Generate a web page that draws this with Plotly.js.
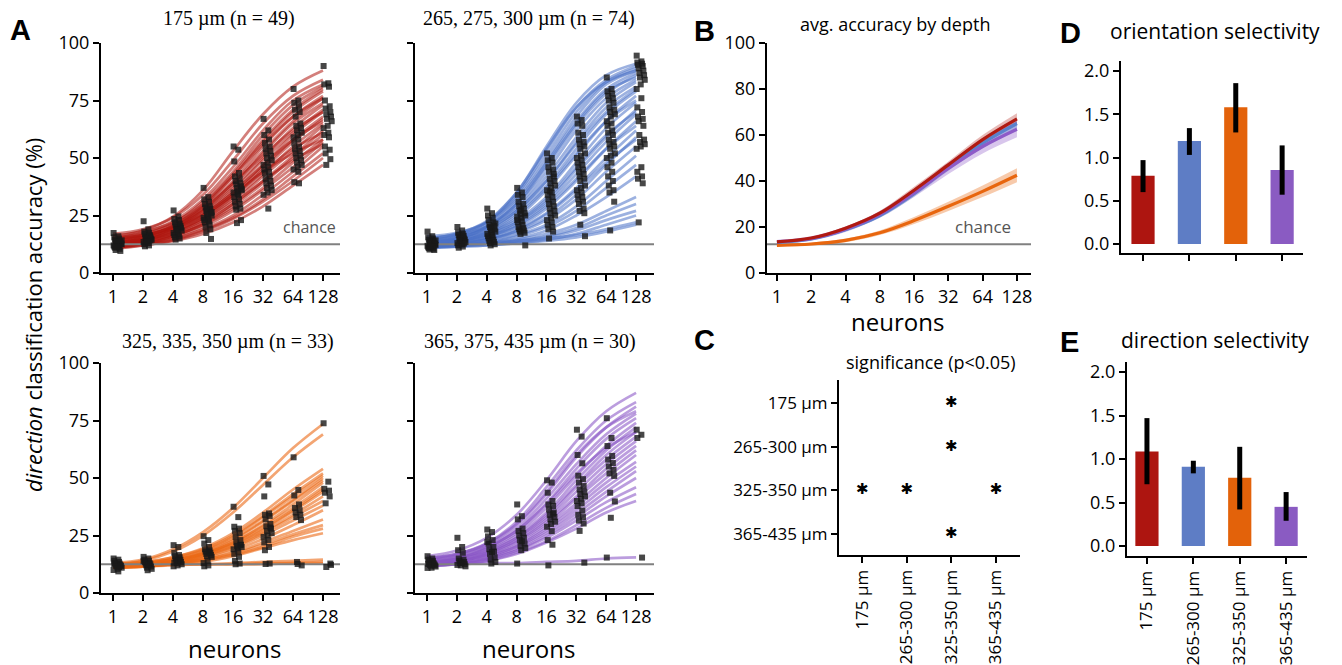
<!DOCTYPE html>
<html><head><meta charset="utf-8">
<script src="https://cdn.plot.ly/plotly-3.0.1.min.js"></script>
<style>html,body{margin:0;padding:0;background:#fff}#chart{width:1342px;height:665px}</style>
</head><body><div id="chart"></div>
<script>
const W=1342,H=665;
const neurons=[1,2,4,8,16,32,64,128];
const neuronLabels=['1','2','4','8','16','32','64','128'];
const chance=12.5;

// ---- Panel A: per-session fitted curves (values at 1..128 neurons) ----
const redCurves=[
[16,18.5,24.5,36,53,69,81,88],[17,19,24,34,49,65,77,84],[15,17.5,22.5,32,46,62,75,82],
[14,16.5,21.5,31,44,60,73,81],[16,18,22,30,43,58,71,80],[13,15.5,20.5,29,42,57,70,79],
[15,17,21,28.5,40,55,68,77],[14,16,20,28,39,53,66,76],[12,14.5,19.5,27,38,52,65,74],
[15,16.5,20,27,37,50,63,73],[13,15,19,26,36,49,61,71],[12,14,18.5,25.5,35,47,60,70],
[14,15.5,19,25,34,46,58,68],[12,14,18,24,33,45,57,67],[13,14.5,17.5,23,32,43,55,65],
[11,13,17,23,31,42,53,64],[12,13.5,16.5,22,30,40,51,62],[11,12.5,16,21,29,39,50,60],
[13,14,16.5,21,28,37,48,58],[11,12.5,15.5,20,27,36,46,57],[12,13,15,19,25,34,44,55],
[10.5,12,14.5,18.5,24,32,42,52],[11,12,14,18,23.5,31,40,50],[12,12.5,14,17,22,29,38,47],
[14,16,20.5,29.5,42,56,68,76],[13,15,19.5,27.5,39,51,62,70],[15,16.5,19.5,25.5,35,47,58,66],
[12,14,17.5,24,33.5,44,54,61],[11.5,13,16,21.5,30,40,49,56],[13,14.5,18,24.5,34,44,52,58]
];
const blueCurves=[
[14,16.5,22,35,55,74,86,91],[15,17,22,34,53,72,84,90],[13,15.5,21,33,51,70,83,89],
[16,17.5,22,32,49,68,82,88],[12,14.5,20,31,48,66,80,87],[14,16,20.5,30,46,64,78,86],
[13,15,19.5,29,44,62,76,84],[15,16.5,20,28,42,59,74,83],[12,14,18.5,27,40,57,72,81],
[13,14.5,18,26,38,54,69,79],[12,13.5,17,24,36,51,66,77],[14,15,17.5,23,33,48,63,74],
[12,13.5,16.5,22,31,45,59,71],[11,12.5,15.5,21,30,43,57,69],[13,14,16,20,28,40,54,66],
[12,13,15,19,26,37,50,62],[11,12.5,14.5,18,24,34,47,59],[12,13,14.5,17.5,23,32,44,55],
[11,12,13.5,16.5,21,29,40,51],[12,12.5,13.5,16,20,27,37,47],[11,12,13,15,18.5,25,33,42],
[12,12.5,13,14.5,17,21,27,33],[11,11.5,12.5,14,16,19.5,25,30],[12,12.5,13,14,15.5,18.5,23,27],
[11,11.5,12,13,14.5,17,21,25],[12,12,12.5,13.5,15,16.5,19,22],[11,11.5,12,13,14,15.5,18,21],
[15,17,22.5,35,54,72,83,88],[13,15,20,30,47,65,79,85],[14,15.5,19,27,40,56,70,80],
[12,13.5,17.5,25,37,52,66,75],[13,14,16.5,22,32,46,60,70],[12,13,15.5,20.5,29,41,54,64],
[11.5,12.5,14.5,18.5,25.5,36,48,58]
];
const orangeCurves=[
[13,14.5,19,26.5,37,50,63,73.5],[12.5,14,18,25,35,47,59,69],[12,13,15.5,19.5,26,35,45,54],
[12.5,13.5,15.5,19,25,33.5,43,52],[11.5,12.5,15,18.5,24.5,33,42,51],[12,13,14.5,18,23.5,31.5,40.5,50],
[11,12,14,17.5,23,31,40,49],[12,12.5,14,17,22,29.5,38.5,48],[11.5,12.5,14,17,22,29,37,46],
[12,13,14.5,17,21.5,28,36,45],[11,12,13.5,16.5,21,27.5,35.5,44],[11.5,12.5,13.5,16,20.5,26.5,34,42],
[12,12.5,13.5,16,20,26,33,40],[11,12,13,15.5,19.5,25,31.5,38],[11.5,12,13,15,18.5,23.5,29.5,36],
[11,11.5,12.5,14.5,17.5,22,27,32],[11.5,12,13,14.5,17,21,25.5,29.5],[11,11.5,12.5,14,16.5,20,24.5,28],
[11,11.5,12.5,13.5,16,19.5,23,26],[12,12,12.5,12.5,13,13.5,14,14.5],[11,11.5,12,12.5,12.5,13,13,13.5],
[12,12,12.5,12.5,12.5,12.5,13,13]
];
const purpleCurves=[
[16,18.5,24,34,49,66,79,87],[14,16.5,21.5,31,46,62,75,83],[15,17,21,29.5,43,59,72,81],
[13,15.5,20,28,41,56,69,78],[15,16.5,20,27,39,54,67,76],[13,15,19,26,37,51,64,74],
[14,15.5,18.5,25,35,49,62,72],[12,14,17.5,24,34,47,60,70],[13,14.5,18,24,33,46,58,68],
[12,13.5,17,23,32,44,56,66],[14,15,17.5,22.5,31,42,54,64],[12,13.5,16.5,22,30,41,52,62],
[13,14,16.5,21,29,39,50,60],[12,13,15.5,20.5,28,37.5,48,57],[13,14,16,20,27,36,46,55],
[12,13,15,19.5,26,34.5,44,53],[11.5,12.5,14.5,18.5,25,33,42,50],[12,13,15,18.5,24,31.5,39.5,46],
[11.5,12.5,14,17.5,22.5,29.5,37,43],[12,12.5,14,17,22,28,35,40],[12.5,12.5,13,13,13.5,14,15,15.5],
[15,17,21.5,30,44,60,72,79],[13,15,19.5,27,38.5,52,63,70]
];

// ---- Panel A: session accuracies (one list per neuron count) ----
const redPoints=[
[17.4,16,15.5,15,14.5,14,13.8,13.5,13.2,13,12.8,12.5,12.2,12,11.8,11.5,11.2,11,10.5,10,9.6,13.6,12.6,11.4,14.2],
[22.5,19,18,17.5,17,16.5,16,15.8,15.5,15,14.8,14.5,14,13.5,13,12.5,12,11.6,16.2,15.2,14.2,13.8],
[27.2,24.6,23.5,23,22,21.5,21,20.5,20,19.5,19,18.5,18,17.4,17,16.5,16,15.5,15,14.5,20.2,18.8],
[37,33,32,31,30,29,28.5,28,27,26,25.5,25,24.5,24,23.5,23,22.5,22,21,20,19,17.4,14.8,27.5,26.5],
[55,53.6,48.5,43.5,42,41,40,39,38.5,37.7,37,36,35.5,35,34,33,32,31,30,29,28,27.5,23,21.7,36.5,34.5],
[67,62,60,58,56.5,55,54,53,52,51,50,49,48,47,46,45,44,43.5,42,41,40,39,38,37,36,35,34,28],
[80,75,74,72.5,71,70,68,65,64,63,62,61,60,59,58,56.5,55,54,53,52,51,50,49,48,47,46,45,44,39.5,39],
[90,82.5,82,81,75,72.5,71.5,70,69,68,67,66,64,63,61,60,59,55,53.6,52,49.5,47]
];
const bluePoints=[
[18,16,15.5,15,14.5,14,13.5,13.2,13,12.8,12.5,12.2,12,11.8,11.5,11.2,11,10.8,10.5,10.2,10,13.6,12.6,11.6,14.2],
[20,18.5,17.5,17,16.5,16,15.5,15,14.8,14.5,14,13.5,13.2,13,12.5,12,11.5,11,16.2,14.2,12.8],
[28,26,25,24,23,22,21,20.5,20,19,18.5,18,17.5,17,16.5,16,15.5,15,14.5,14,13.5,13,12.5,12,21.5,19.5],
[37,35,34,33,31,30,29,28,27,26,25.5,25,24,23,22.5,22,21,20,19.5,19,18.5,18,17.5,17,12,27.5,24.5],
[52,50,49,48,46,45,44,43,41,40,39,38,37,36,35,34,33,32,31,30,29,28,27,26,25,24,23,22,21,20,19,18,15,42,35.5],
[68,66.5,65,64,61,60,58,57,56,55,54,52,51,50,49,48,47,46,45,44,43,42,41,40,38,37,36,35,34,33,32,31,30,28,27,26,21,16],
[85,80,79,78,77,76,75,74,72,71,70,69,68,66,65,64,62,61,60,58,57,56,55,54,52,51,50,48,46,44,42,40,38,36,35,31,18.5],
[94.5,92,91.5,91,90.5,90,89,88,87,86,85,84,82,80,76,72,70,68,67,66,64,60,58,57,56,55,54,46,44,42,41,39,22]
];
const orangePoints=[
[15,14.5,14,13.5,13,12.8,12.5,12.2,12,11.8,11.5,11,10.5,10,9.4,12.6,11.3],
[15.7,15,14.5,14,13.5,13,12.8,12.5,12,11.5,11,10.5,9.9,13.8,12.3],
[20.8,20,17.5,16.5,16,15.5,15,14.5,14,13.5,13,12.5,12,11.6,14.2,13.2],
[24.7,23,21.5,20,19,18.5,18,17.5,17,16.5,16,15.7,14,13,12,11.6,17.8],
[37.5,33,28.8,28,27,26,24.4,23,22,21,20.5,20,19.5,19,18,17,15.7,14,12.8,12.5,20.8],
[50.9,47.2,42,34.6,34,33.5,32,30,29,28,27,26,25,24.4,23,22,20,18.6,12.8,12.6,28.5],
[59,44.8,42.4,38.5,37,36,35,34,33,31.7,13.5,12,12.6],
[73.8,48.4,45.3,44.5,43.6,42,39,12.8,11.3,12.2]
];
const purplePoints=[
[16,15,14.5,14,13.5,13,12.8,12.5,12.2,12,11.8,11.5,11,10.9,13.6,12.6],
[24,20,18.6,17.5,15,14.5,14,13.5,13,12.5,12,11.6,13.2,12.2],
[27.6,26.5,24.6,23,21.5,20,19,18,17,15.5,14.5,13.5,12.8,22.2,17.8],
[38.5,33.4,32,28,27,26,25,24,23,21.5,20.5,19.5,18.6,12.8,22.5],
[49,48,43.6,40,38.5,37.8,36.3,35,34,33,32,31,30,28.8,26.9,23,21,12,34.5],
[71,68,60,56.4,51,49.5,48,46.5,45,44,43,42,41,40,39,37.8,35.8,34,33,31.5,30.2,27,13.2],
[76,67.4,63.9,59.6,58,56.5,55,53.5,52,50.9,43.6,39.8,32.7,15.4],
[71,68.8,67.4,15.4]
];

// ---- Panel B: average accuracy by depth (mean and band) ----
const bRed=[13.5,15.2,19.5,26,36,47,58,67];
const bRedLo=[13,14.7,18.8,25,34.5,45.5,56,64.5];
const bRedHi=[14,15.7,20.2,27,37.5,48.5,60,69.5];
const bBlue=[13.3,14.8,18.8,25,34.5,46,56.5,65];
const bBlueLo=[12.8,14.3,18.2,24,33.3,44.5,54.5,62.5];
const bBlueHi=[13.8,15.3,19.4,26,35.7,47.5,58.5,67.5];
const bPurple=[13.6,15,19,25.5,34.8,45.5,55,62.5];
const bPurpleLo=[12.8,14,17.8,24,33,43,52,59];
const bPurpleHi=[14.4,16,20.2,27,36.6,48,58,66];
const bOrange=[12,12.6,14.2,17.5,22.8,29,35.5,42.5];
const bOrangeLo=[11.5,12,13.4,16.5,21.3,27,33,39.5];
const bOrangeHi=[12.5,13.2,15,18.5,24.3,31,38,45.5];

// ---- Panel C: significant pairs ----
const depthLabels=['175 µm','265-300 µm','325-350 µm','365-435 µm'];
const sigRow=[0,1,2,2,2,3];
const sigCol=[2,2,0,1,3,2];

// ---- Panels D, E ----
const osi=[0.79,1.19,1.58,0.855];
const osiLo=[0.60,1.03,1.29,0.57];
const osiHi=[0.97,1.34,1.86,1.14];
const dsi=[1.085,0.91,0.785,0.45];
const dsiLo=[0.71,0.835,0.42,0.29];
const dsiHi=[1.47,0.98,1.14,0.62];

const depthColors=['#AD1510','#5E7DC5','#E3620A','#8A5BC2'];

// ================= build =================
const traces=[];
function curveTraces(curves,color,xa,ya){
  curves.forEach(c=>traces.push({type:'scatter',mode:'lines',x:neurons,y:c,xaxis:xa,yaxis:ya,
    line:{color:color,width:2.7,shape:'spline',smoothing:1},hoverinfo:'skip'}));
}
function chanceTrace(xa,ya){
  traces.push({type:'scatter',mode:'lines',x:[0.3,400],y:[chance,chance],xaxis:xa,yaxis:ya,
    line:{color:'#808080',width:2.2},hoverinfo:'skip'});
}
function pointTrace(points,xa,ya){
  const xs=[],ys=[];
  points.forEach((col,i)=>col.forEach((v,j)=>{
    xs.push(neurons[i]*Math.pow(2,0.02+0.27*((j*7)%13)/12)); ys.push(v);
  }));
  traces.push({type:'scatter',mode:'markers',x:xs,y:ys,xaxis:xa,yaxis:ya,
    marker:{symbol:'square',size:6,color:'rgba(25,25,25,0.8)'},hoverinfo:'skip'});
}
const panels=[
  [redCurves,redPoints,'rgba(175,22,15,0.55)','x','y'],
  [blueCurves,bluePoints,'rgba(75,113,198,0.55)','x2','y2'],
  [orangeCurves,orangePoints,'rgba(235,105,22,0.6)','x3','y3'],
  [purpleCurves,purplePoints,'rgba(138,86,198,0.58)','x4','y4']
];
panels.forEach(p=>{curveTraces(p[0],p[2],p[3],p[4]);chanceTrace(p[3],p[4]);pointTrace(p[1],p[3],p[4]);});

// Panel B
chanceTrace('x5','y5');
function band(lo,hi,fill){
  traces.push({type:'scatter',mode:'lines',x:neurons,y:hi,xaxis:'x5',yaxis:'y5',line:{width:0,shape:'spline'},hoverinfo:'skip'});
  traces.push({type:'scatter',mode:'lines',x:neurons,y:lo,xaxis:'x5',yaxis:'y5',line:{width:0,shape:'spline'},fill:'tonexty',fillcolor:fill,hoverinfo:'skip'});
}
band(bOrangeLo,bOrangeHi,'rgba(232,102,14,0.35)');
band(bPurpleLo,bPurpleHi,'rgba(142,91,200,0.35)');
band(bBlueLo,bBlueHi,'rgba(90,130,204,0.35)');
band(bRedLo,bRedHi,'rgba(176,26,18,0.3)');
[[bOrange,'#E8660E'],[bBlue,'#5A82CC'],[bPurple,'#8E5BC8'],[bRed,'#B01A12']].forEach(a=>{
  traces.push({type:'scatter',mode:'lines',x:neurons,y:a[0],xaxis:'x5',yaxis:'y5',line:{color:a[1],width:3.2,shape:'spline'},hoverinfo:'skip'});
});

// Panel C
traces.push({type:'scatter',mode:'text',x:sigCol,y:sigRow,text:sigRow.map(()=>'✱'),xaxis:'x6',yaxis:'y6',
  textfont:{family:'DejaVu Sans',size:15,color:'black'},textposition:'middle center',hoverinfo:'skip'});

// Panels D, E
function bars(v,lo,hi,xa,ya){
  traces.push({type:'bar',x:[0,1,2,3],y:v,width:0.5,xaxis:xa,yaxis:ya,
    marker:{color:depthColors,line:{width:0}},
    error_y:{type:'data',symmetric:false,array:v.map((d,i)=>hi[i]-d),arrayminus:v.map((d,i)=>d-lo[i]),color:'black',thickness:5,width:0},
    hoverinfo:'skip'});
}
bars(osi,osiLo,osiHi,'x7','y7');
bars(dsi,dsiLo,dsiHi,'x8','y8');

// ================= layout =================
const dx=(a,b)=>[a/W,b/W];
const dy=(t,b)=>[1-b/H,1-t/H];
const L2=Math.log10(2);
const ax={showline:true,linecolor:'black',linewidth:2,ticks:'outside',ticklen:6,tickwidth:2,tickcolor:'black',
  showgrid:false,zeroline:false,fixedrange:true,tickfont:{family:'Open Sans',size:18,color:'black'}};
function xA(dom,range,anchor){return Object.assign({},ax,{type:'log',domain:dom,range:range,tickvals:neurons,ticktext:neuronLabels,anchor:anchor});}
function yA(dom,anchor,show){return Object.assign({},ax,{domain:dom,range:[0,100],tickvals:[0,25,50,75,100],showticklabels:show,anchor:anchor});}
const layout={
  width:W,height:H,margin:{l:0,r:0,t:0,b:0},paper_bgcolor:'white',plot_bgcolor:'rgba(0,0,0,0)',showlegend:false,
  xaxis:xA(dx(101,340),[-0.4*L2,7.567*L2],'y'),
  yaxis:yA(dy(43,273),'x',true),
  xaxis2:xA(dx(415,654),[-0.4*L2,7.6*L2],'y2'),
  yaxis2:yA(dy(43,273),'x2',false),
  xaxis3:xA(dx(101,340),[-0.4*L2,7.567*L2],'y3'),
  yaxis3:yA(dy(363,593),'x3',true),
  xaxis4:xA(dx(415,654),[-0.4*L2,7.6*L2],'y4'),
  yaxis4:yA(dy(363,593),'x4',false),
  xaxis5:xA(dx(767,1031),[-0.29*L2,7.41*L2],'y5'),
  yaxis5:Object.assign({},ax,{domain:dy(43,273),range:[0,100],tickvals:[0,20,40,60,80,100],anchor:'x5'}),
  xaxis6:Object.assign({},ax,{domain:dx(839,1020),range:[-0.52,3.54],tickvals:[0,1,2,3],ticktext:depthLabels,tickangle:-90,anchor:'y6',tickfont:{family:'Open Sans',size:17,color:'black'}}),
  yaxis6:Object.assign({},ax,{domain:dy(380,555),range:[3.48,-0.53],tickvals:[0,1,2,3],ticktext:depthLabels,anchor:'x6',tickfont:{family:'Open Sans',size:17,color:'black'}}),
  xaxis7:Object.assign({},ax,{domain:dx(1121,1303),range:[-0.475,3.45],tickvals:[0,1,2,3],showticklabels:false,anchor:'y7'}),
  yaxis7:Object.assign({},ax,{domain:dy(61,253),range:[-0.104,2.116],tickvals:[0,0.5,1,1.5,2],tickformat:'.1f',anchor:'x7'}),
  xaxis8:Object.assign({},ax,{domain:dx(1127,1307),range:[-0.43,3.45],tickvals:[0,1,2,3],ticktext:depthLabels,tickangle:-90,anchor:'y8',tickfont:{family:'Open Sans',size:17,color:'black'}}),
  yaxis8:Object.assign({},ax,{domain:dy(362,556),range:[-0.115,2.115],tickvals:[0,0.5,1,1.5,2],tickformat:'.1f',anchor:'x8'}),
  annotations:[]
};
function ann(x,y,text,font,extra){
  layout.annotations.push(Object.assign({xref:'paper',yref:'paper',x:x/W,y:1-y/H,text:text,showarrow:false,
    xanchor:'center',yanchor:'middle',font:font},extra||{}));
}
const serif={family:'Liberation Serif',size:20,color:'black'};
const sans=s=>({family:'Open Sans',size:s,color:'black'});
const bold={family:'Liberation Sans',size:29,color:'black',weight:'bold'};
ann(229,18,'175 µm (n = 49)',serif);
ann(529,18,'265, 275, 300 µm (n = 74)',serif);
ann(228,341,'325, 335, 350 µm (n = 33)',serif);
ann(530,341,'365, 375, 435 µm (n = 30)',serif);
ann(33,315,'<i>direction</i> classification accuracy (%)',sans(22),{textangle:-90});
ann(234,648,'neurons',sans(24));
ann(528,648,'neurons',sans(24));
ann(897,321,'neurons',sans(24));
ann(309,227,'chance',{family:'Open Sans',size:16,color:'#555'});
ann(983,226,'chance',{family:'Open Sans',size:17,color:'#555'});
ann(895,24,'avg. accuracy by depth',sans(18));
ann(931,362,'significance (p<0.05)',sans(18));
ann(1215,31,'orientation selectivity',sans(21));
ann(1215,340,'direction selectivity',sans(21));
ann(20,30,'<b>A</b>',bold);
ann(704,31,'<b>B</b>',bold);
ann(705,340,'<b>C</b>',bold);
ann(1070,33,'<b>D</b>',bold);
ann(1069,342,'<b>E</b>',bold);

Plotly.newPlot('chart',traces,layout,{displayModeBar:false,staticPlot:true});
</script>
</body></html>
